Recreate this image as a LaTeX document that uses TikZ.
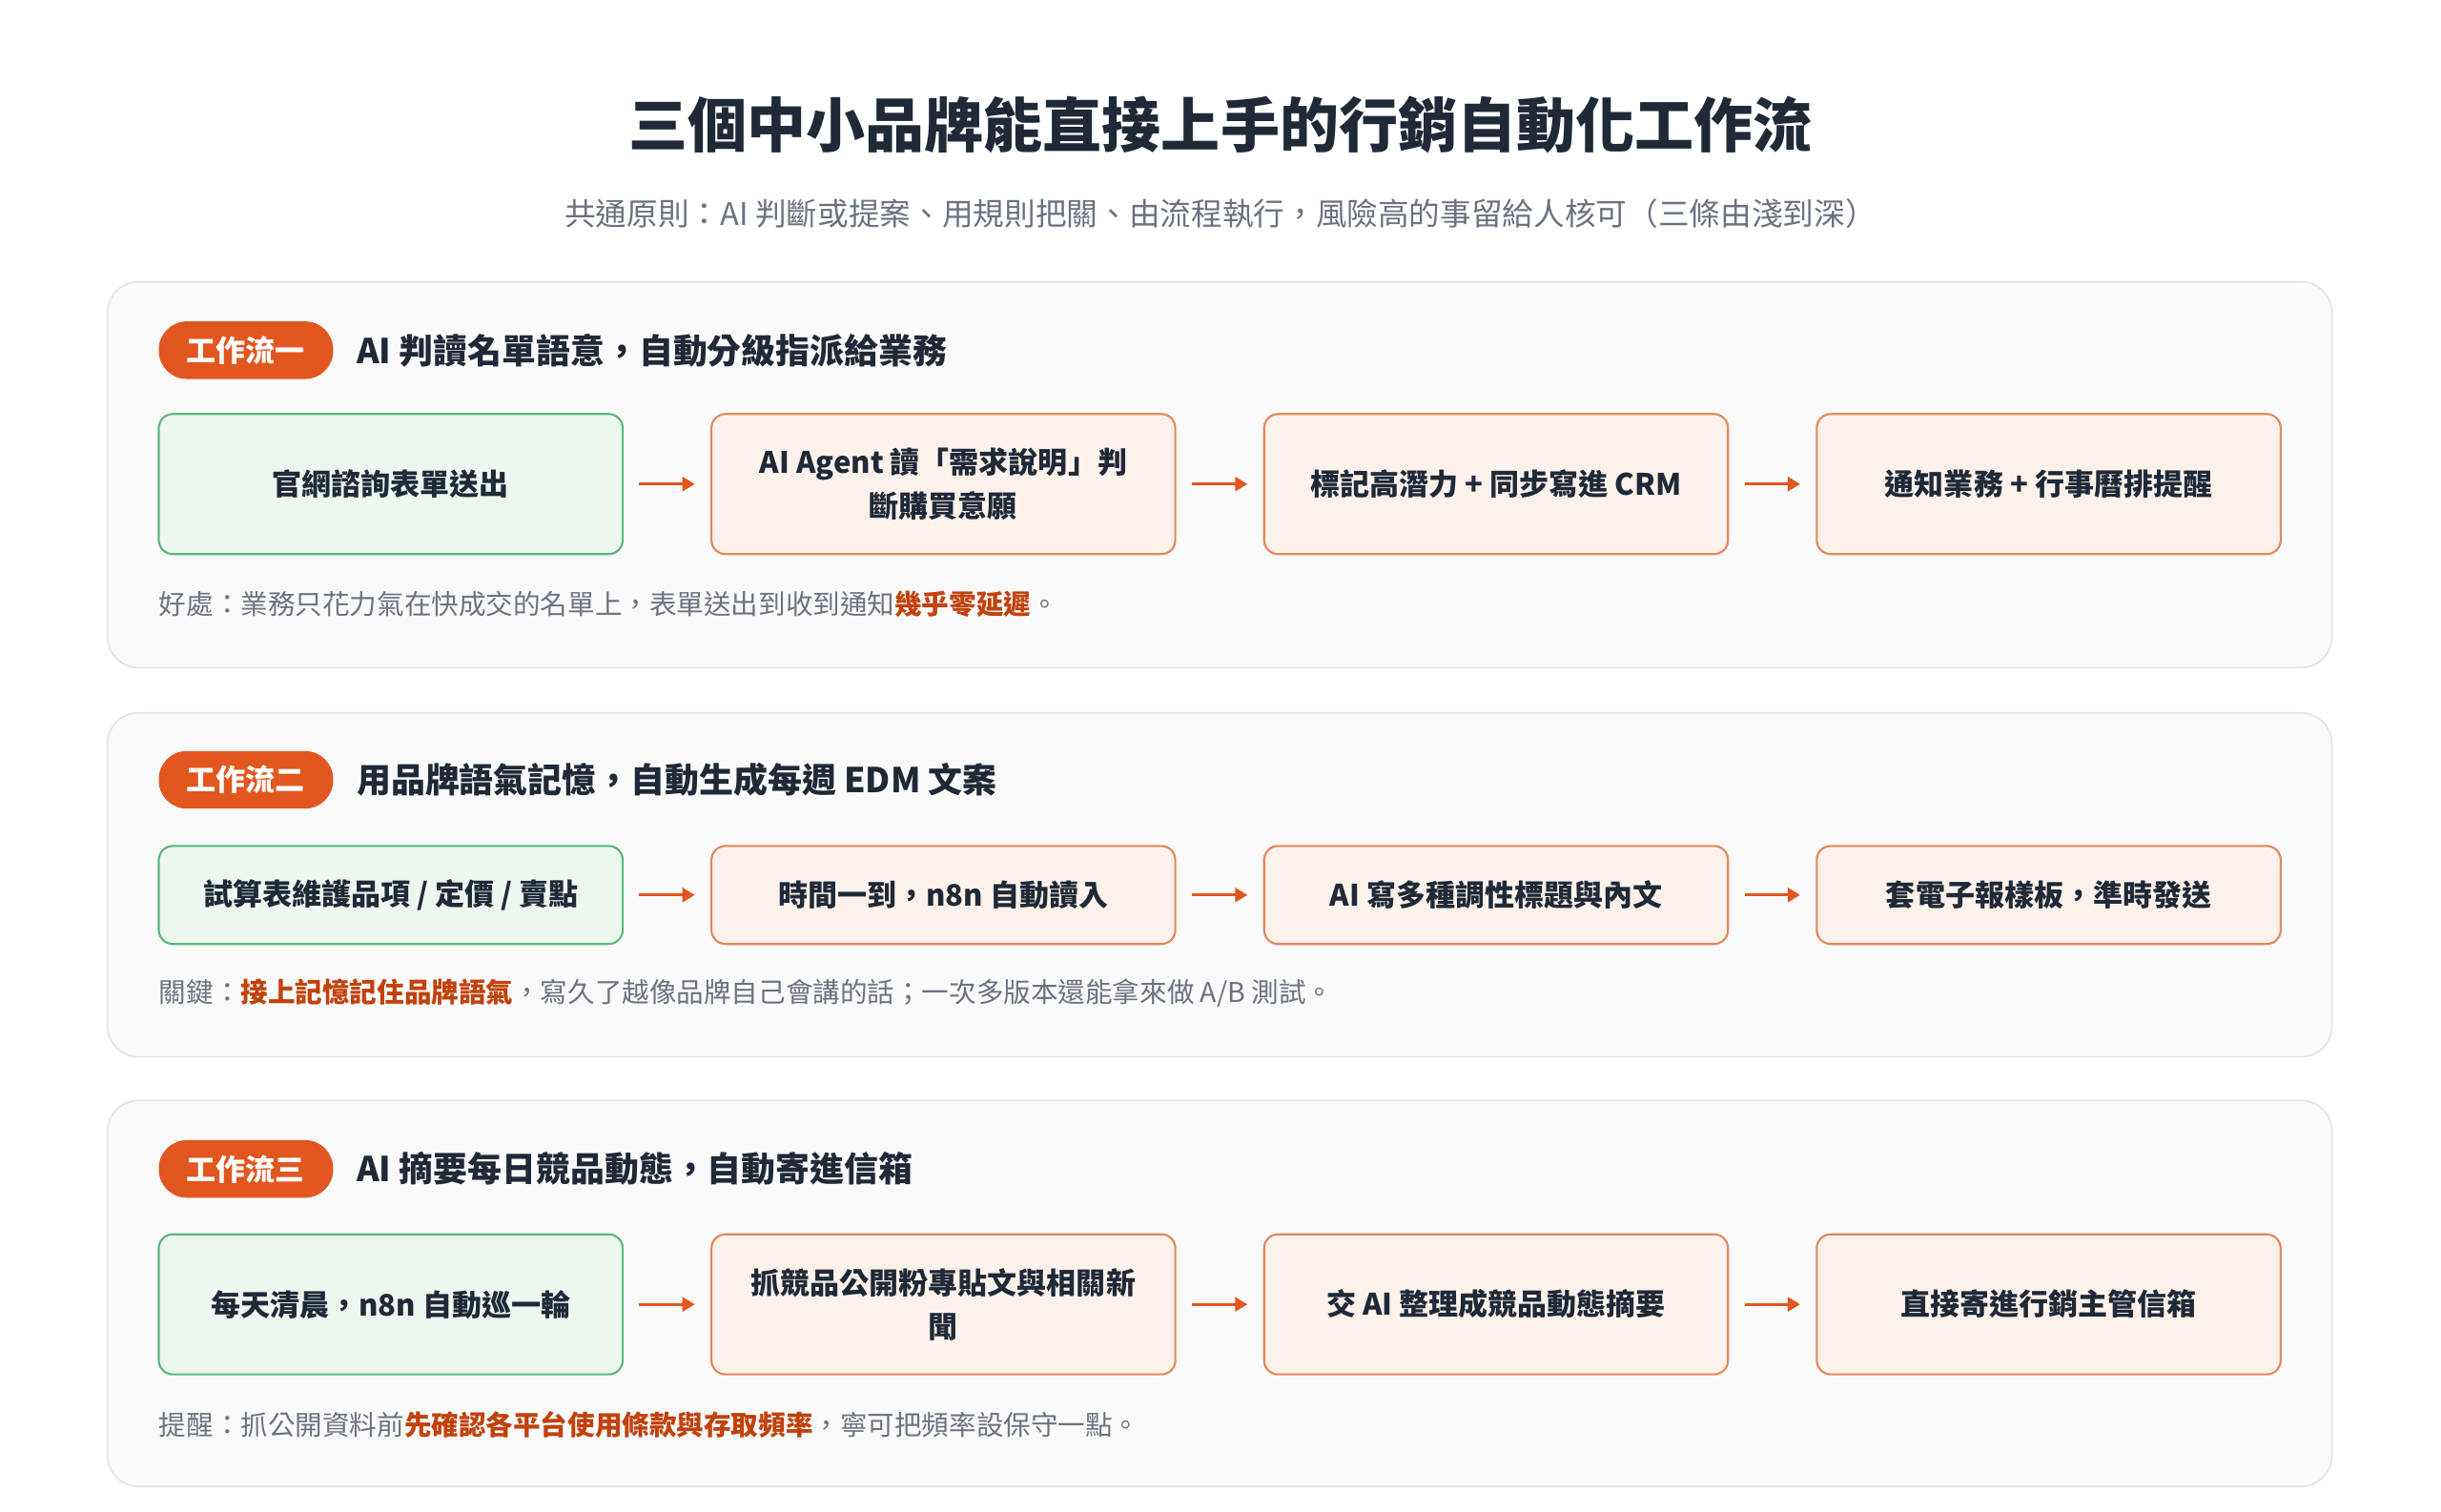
\documentclass[tikz,border=0pt]{standalone}
\usepackage{fontspec}
\setmainfont{Noto Sans CJK TC}
\usetikzlibrary{arrows.meta}
\definecolor{ttl}{HTML}{1F2937}
\definecolor{sub}{HTML}{6B7280}
\definecolor{org}{HTML}{E2561F}
\definecolor{hl}{HTML}{C2410C}
\definecolor{gfill}{HTML}{EBF7EF}
\definecolor{gline}{HTML}{5CB87C}
\definecolor{ofill}{HTML}{FDF2EB}
\definecolor{oline}{HTML}{E3875A}
\definecolor{pfill}{HTML}{FAFAFA}
\definecolor{pline}{HTML}{E4E4E4}
\tikzset{
 panel/.style={draw=pline,fill=pfill,rounded corners=20pt,line width=1pt},
 badge/.style={fill=org,rounded corners=18pt,minimum width=112pt,minimum height=37pt,text=white,font=\fontsize{19}{22}\selectfont\bfseries,inner sep=0pt},
 head/.style={anchor=west,text=ttl,font=\fontsize{22}{26}\selectfont\bfseries,inner sep=0pt},
 box/.style={rounded corners=9pt,line width=1.3pt,minimum width=298pt,text=ttl,align=center,font=\fontsize{19}{28}\selectfont\bfseries,inner sep=0pt},
 gbox/.style={box,draw=gline,fill=gfill},
 obox/.style={box,draw=oline,fill=ofill},
 arr/.style={draw=org,line width=2pt,-{Triangle[length=8pt,width=9pt]},shorten <=10pt,shorten >=10pt},
 note/.style={anchor=west,text=sub,font=\fontsize{17.5}{20}\selectfont,inner sep=0pt},
}
\newcommand{\hlt}[1]{\textcolor{hl}{\bfseries #1}}
\begin{document}
\begin{tikzpicture}[x=1pt,y=-1pt]
\useasboundingbox[fill=white] (0,0) rectangle (1568,971);
\node[text=ttl,font=\fontsize{38}{44}\selectfont\bfseries] (title) at (784,80) {三個中小品牌能直接上手的行銷自動化工作流};
\node[text=sub,font=\fontsize{20}{24}\selectfont] (subt) at (784,137) {共通原則：AI 判斷或提案、用規則把關、由流程執行，風險高的事留給人核可（三條由淺到深）};
% panel 1
\draw[panel] (69,181) rectangle (1498,429);
\node[badge] (b1) at (158,225) {工作流一};
\node[head] (h1) at (229,225) {AI 判讀名單語意，自動分級指派給業務};
\node[gbox,minimum height=90pt] (a1) at (251,311) {官網諮詢表單送出};
\node[obox,minimum height=90pt] (a2) at (606,311) {AI Agent 讀「需求說明」判\\斷購買意願};
\node[obox,minimum height=90pt] (a3) at (961,311) {標記高潛力 + 同步寫進 CRM};
\node[obox,minimum height=90pt] (a4) at (1316,311) {通知業務 + 行事曆排提醒};
\draw[arr] (a1) -- (a2); \draw[arr] (a2) -- (a3); \draw[arr] (a3) -- (a4);
\node[note] (n1) at (102,388) {好處：業務只花力氣在快成交的名單上，表單送出到收到通知\hlt{幾乎零延遲}。};
% panel 2
\draw[panel] (69,458) rectangle (1498,679);
\node[badge] (b2) at (158,501) {工作流二};
\node[head] (h2) at (229,501) {用品牌語氣記憶，自動生成每週 EDM 文案};
\node[gbox,minimum height=63pt] (c1) at (251,575) {試算表維護品項 / 定價 / 賣點};
\node[obox,minimum height=63pt] (c2) at (606,575) {時間一到，n8n 自動讀入};
\node[obox,minimum height=63pt] (c3) at (961,575) {AI 寫多種調性標題與內文};
\node[obox,minimum height=63pt] (c4) at (1316,575) {套電子報樣板，準時發送};
\draw[arr] (c1) -- (c2); \draw[arr] (c2) -- (c3); \draw[arr] (c3) -- (c4);
\node[note] (n2) at (102,638) {關鍵：\hlt{接上記憶記住品牌語氣}，寫久了越像品牌自己會講的話；一次多版本還能拿來做 A/B 測試。};
% panel 3
\draw[panel] (69,707) rectangle (1498,955);
\node[badge] (b3) at (158,751) {工作流三};
\node[head] (h3) at (229,751) {AI 摘要每日競品動態，自動寄進信箱};
\node[gbox,minimum height=90pt] (d1) at (251,838) {每天清晨，n8n 自動巡一輪};
\node[obox,minimum height=90pt] (d2) at (606,838) {抓競品公開粉專貼文與相關新\\聞};
\node[obox,minimum height=90pt] (d3) at (961,838) {交 AI 整理成競品動態摘要};
\node[obox,minimum height=90pt] (d4) at (1316,838) {直接寄進行銷主管信箱};
\draw[arr] (d1) -- (d2); \draw[arr] (d2) -- (d3); \draw[arr] (d3) -- (d4);
\node[note] (n3) at (102,915) {提醒：抓公開資料前\hlt{先確認各平台使用條款與存取頻率}，寧可把頻率設保守一點。};
\end{tikzpicture}
\end{document}
